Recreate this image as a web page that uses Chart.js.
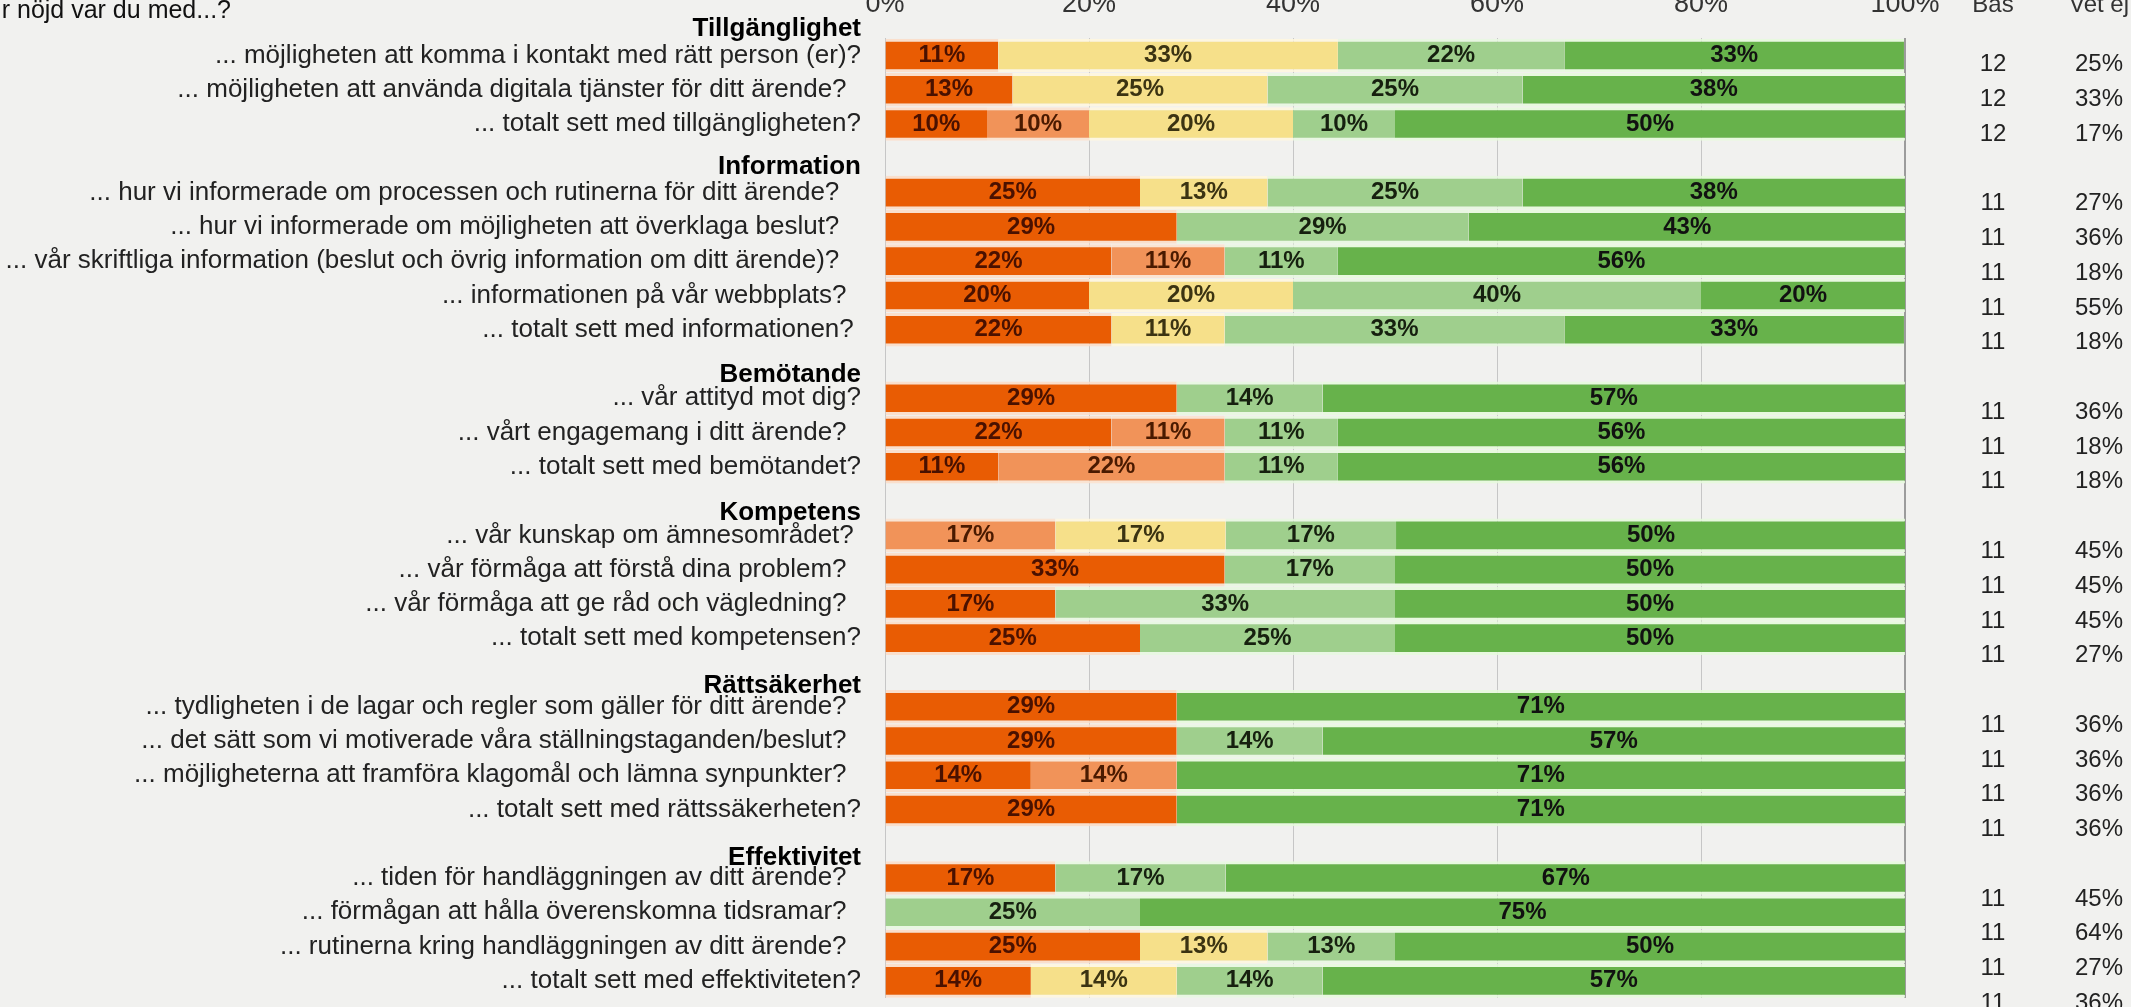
<!DOCTYPE html>
<html>
<head>
<meta charset="utf-8">
<title>Hur nöjd var du med...?</title>
<script src="https://cdn.jsdelivr.net/npm/chart.js@4.4.1/dist/chart.umd.min.js"></script>
<style>
  html, body { margin: 0; padding: 0; background: #f1f1ef; overflow: hidden; }
  body { width: 2131px; height: 1007px; position: relative; }
  #wrap { position: absolute; left: 0; top: -40px; width: 2131px; height: 1060px; }
</style>
</head>
<body>
<div id="wrap"><canvas id="chart"></canvas></div>
<script>
var title = 'Hur nöjd var du med...?';

var groups = ['Tillgänglighet', 'Information', 'Bemötande', 'Kompetens', 'Rättsäkerhet', 'Effektivitet'];
var groupSizes = [3, 5, 3, 4, 4, 4];

// some questions carry trailing spaces, as in the source text
var questions = [
  '... möjligheten att komma i kontakt med rätt person (er)?',
  '... möjligheten att använda digitala tjänster för ditt ärende?  ',
  '... totalt sett med tillgängligheten?',
  '... hur vi informerade om processen och rutinerna för ditt ärende?   ',
  '... hur vi informerade om möjligheten att överklaga beslut?   ',
  '... vår skriftliga information (beslut och övrig information om ditt ärende)?   ',
  '... informationen på vår webbplats?  ',
  '... totalt sett med informationen? ',
  '... vår attityd mot dig?',
  '... vårt engagemang i ditt ärende?  ',
  '... totalt sett med bemötandet?',
  '... vår kunskap om ämnesområdet? ',
  '... vår förmåga att förstå dina problem?  ',
  '... vår förmåga att ge råd och vägledning?  ',
  '... totalt sett med kompetensen?',
  '... tydligheten i de lagar och regler som gäller för ditt ärende?  ',
  '... det sätt som vi motiverade våra ställningstaganden/beslut?  ',
  '... möjligheterna att framföra klagomål och lämna synpunkter?  ',
  '... totalt sett med rättssäkerheten?',
  '... tiden för handläggningen av ditt ärende?  ',
  '... förmågan att hålla överenskomna tidsramar?  ',
  '... rutinerna kring handläggningen av ditt ärende?  ',
  '... totalt sett med effektiviteten?'
];

// shares in percent, one value per question
var mycketMissnojd = [11.1, 12.5, 10, 25, 28.6, 22.2, 20, 22.2, 28.6, 22.2, 11.1, 0, 33.3, 16.7, 25, 28.6, 28.6, 14.3, 28.6, 16.7, 0, 25, 14.3];
var ganskaMissnojd = [0, 0, 10, 0, 0, 11.1, 0, 0, 0, 11.1, 22.2, 16.7, 0, 0, 0, 0, 0, 14.3, 0, 0, 0, 0, 0];
var varkenEller    = [33.3, 25, 20, 12.5, 0, 0, 20, 11.1, 0, 0, 0, 16.7, 0, 0, 0, 0, 0, 0, 0, 0, 0, 12.5, 14.3];
var ganskaNojd     = [22.2, 25, 10, 25, 28.6, 11.1, 40, 33.3, 14.3, 11.1, 11.1, 16.7, 16.7, 33.3, 25, 0, 14.3, 0, 0, 16.7, 25, 12.5, 14.3];
var mycketNojd     = [33.3, 37.5, 50, 37.5, 42.9, 55.6, 20, 33.3, 57.1, 55.6, 55.6, 50, 50, 50, 50, 71.4, 57.1, 71.4, 71.4, 66.7, 75, 50, 57.1];

var bas   = [12, 12, 12, 11, 11, 11, 11, 11, 11, 11, 11, 11, 11, 11, 11, 11, 11, 11, 11, 11, 11, 11, 11];
var vetEj = [25, 33, 17, 27, 36, 18, 55, 18, 36, 18, 18, 45, 45, 45, 27, 36, 36, 36, 36, 45, 64, 27, 36];

var xTicks = [0, 20, 40, 60, 80, 100];

var seriesNames  = ['Mycket missnöjd', 'Ganska missnöjd', 'Varken eller', 'Ganska nöjd', 'Mycket nöjd'];
var seriesColors = ['#e95c03', '#f19359', '#f6e08a', '#9fcf8d', '#67b24b'];
var haloColors   = ['rgba(252,220,198,0.85)', 'rgba(252,226,206,0.85)', 'rgba(255,247,222,0.85)', 'rgba(232,248,224,0.85)', 'rgba(230,250,220,0.85)'];
var labelColors  = ['#4a1100', '#4a1a00', '#3b3312', '#16200f', '#111111'];

// build category slots: an empty slot before every group except the first
var slots = [];
var rowSlot = [];
var headerSlot = [];
(function () {
  var q = 0;
  groups.forEach(function (g, gi) {
    if (gi === 0) {
      headerSlot.push(-1);
    } else {
      headerSlot.push(slots.length);
      slots.push('');
    }
    for (var k = 0; k < groupSizes[gi]; k++) {
      rowSlot.push(slots.length);
      slots.push(questions[q]);
      q++;
    }
  });
})();

function spread(values) {
  var out = slots.map(function () { return null; });
  values.forEach(function (v, i) { out[rowSlot[i]] = v; });
  return out;
}

var FONT = '"Liberation Sans", Arial, sans-serif';

var textPlugin = {
  id: 'surveyText',
  afterDraw: function (chart) {
    var ctx = chart.ctx;
    var ys = chart.scales.y;
    var top = chart.chartArea.top;
    ctx.save();

    // values inside the segments
    ctx.textAlign = 'center';
    ctx.textBaseline = 'middle';
    ctx.font = 'bold 24px ' + FONT;
    chart.data.datasets.forEach(function (ds, di) {
      var meta = chart.getDatasetMeta(di);
      ctx.fillStyle = labelColors[di];
      meta.data.forEach(function (bar, i) {
        var v = ds.data[i];
        if (!v) return;
        var c = bar.getCenterPoint();
        ctx.fillText(Math.round(v) + '%', c.x, c.y);
      });
    });

    // question labels
    ctx.textAlign = 'right';
    ctx.fillStyle = '#222';
    ctx.font = '26px ' + FONT;
    questions.forEach(function (q, i) {
      ctx.fillText(q, 861, ys.getPixelForValue(rowSlot[i]));
    });

    // group headers
    ctx.font = 'bold 26px ' + FONT;
    ctx.fillStyle = '#000';
    groups.forEach(function (g, gi) {
      var s = headerSlot[gi];
      ctx.fillText(g, 861, ys.getPixelForValue(s) + 8 + 0.28 * s);
    });

    // title, cut at the left edge
    ctx.font = '25px ' + FONT;
    ctx.fillStyle = '#111';
    ctx.fillText(title, 231, top - 27);

    // side table
    ctx.textAlign = 'center';
    ctx.font = '24px ' + FONT;
    ctx.fillStyle = '#333';
    ctx.fillText('Bas', 1993, top - 33);
    ctx.fillText('Vet ej', 2099, top - 33);
    ctx.fillStyle = '#222';
    bas.forEach(function (b, i) {
      var s = rowSlot[i];
      var yy = ys.getPixelForValue(s) + 9 + 0.5 * s;
      ctx.fillText(String(b), 1993, yy);
      ctx.fillText(vetEj[i] + '%', 2099, yy);
    });
    ctx.restore();
  }
};

var datasets = [mycketMissnojd, ganskaMissnojd, varkenEller, ganskaNojd, mycketNojd].map(function (vals, i) {
  return {
    label: seriesNames[i],
    data: spread(vals),
    backgroundColor: seriesColors[i],
    borderColor: haloColors[i],
    borderWidth: { top: 3, bottom: 3, left: 0, right: 0 },
    borderSkipped: false,
    categoryPercentage: 0.98,
    barPercentage: 1
  };
});

new Chart(document.getElementById('chart').getContext('2d'), {
  type: 'bar',
  data: { labels: slots, datasets: datasets },
  options: {
    indexAxis: 'y',
    responsive: true,
    maintainAspectRatio: false,
    animation: false,
    layout: { padding: { left: 885, right: 226, top: 10, bottom: 22 } },
    plugins: { legend: { display: false }, tooltip: { enabled: false } },
    scales: {
      x: {
        position: 'top',
        stacked: true,
        min: xTicks[0],
        max: xTicks[xTicks.length - 1],
        afterBuildTicks: function (axis) {
          axis.ticks = xTicks.map(function (v) { return { value: v }; });
        },
        ticks: {
          padding: 18,
          color: '#333',
          font: { family: FONT, size: 27 },
          callback: function (v) { return v + '%'; }
        },
        grid: {
          drawTicks: false,
          color: function (c) { return c.tick && c.tick.value === 100 ? '#9c9c9c' : '#c6c6c6'; },
          lineWidth: function (c) { return c.tick && c.tick.value === 100 ? 2 : 1; }
        },
        border: { display: false }
      },
      y: {
        stacked: true,
        display: false
      }
    }
  },
  plugins: [textPlugin]
});
</script>
</body>
</html>
